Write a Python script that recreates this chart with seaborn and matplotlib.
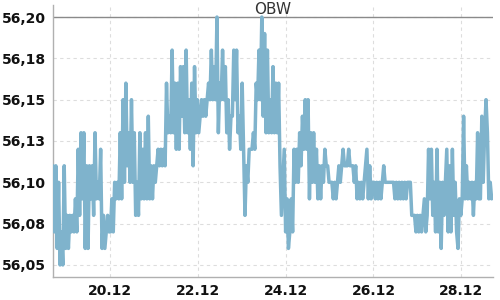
import matplotlib
matplotlib.use("Agg")
import matplotlib.pyplot as plt
import pandas as pd
import seaborn as sns

# ---- data ----
title = "OBW"
start_time = "2024-12-18 17:00"
end_time = "2024-12-28 16:30"
# prices in hundredths above 56.00
price_cents = [
    # 18.12 - 20.12
    11, 7, 11, 6, 10, 5, 7, 5, 11, 6, 8, 6, 8, 7, 8, 7, 9, 7, 12, 8,
    13, 9, 13, 6, 11, 6, 11, 9, 11, 8, 13, 9, 10, 9, 12, 6, 8, 6, 7, 8,
    7, 7, 9, 7, 10, 9, 10, 9, 13, 9, 15, 10, 16, 11, 13,
    # 20.12 - 22.12
    10, 15, 10, 13, 8, 10, 8, 13, 9, 12, 9, 13, 9, 14, 9, 11, 9, 11, 10, 11,
    12, 11, 12, 11, 12, 11, 16, 13, 14, 13, 18, 13, 16, 12, 16, 12, 17, 14, 17, 13,
    18, 13, 15, 12, 16, 11, 17, 13, 15, 13, 14, 15, 14, 15,
    # 22.12 - 23.12
    14, 15, 16, 15, 18, 15, 17, 15, 20, 13, 16, 15, 18, 15, 17, 13, 15, 12, 14, 14,
    18, 15, 18, 13, 14, 12, 16, 12, 8, 11, 10, 12, 12, 12, 13, 12, 16, 15, 18, 15,
    20, 14, 19, 13, 18, 13, 15, 13, 17, 13, 16, 13, 16, 11,
    # 23.12 - 25.12
    8, 10, 12, 7, 9, 6, 7, 9, 7, 12, 10, 12, 10, 13, 11, 14, 12, 15, 12, 15,
    9, 13, 10, 13, 10, 12, 9, 11, 9, 11, 10, 12, 11, 11, 10, 10, 10, 9, 10, 9,
    10, 11, 10, 11, 12, 11, 11, 11, 12, 11, 11, 11, 10, 11,
    # 25.12 - 27.12
    9, 10, 9, 10, 9, 10, 11, 12, 9, 11, 9, 10, 10, 9, 10, 9, 10, 9, 10, 11,
    10, 10, 10, 10, 10, 10, 10, 9, 10, 9, 10, 9, 10, 9, 10, 9, 10, 10, 10, 8,
    8, 8, 7, 8, 7, 8,
    # 27.12 - 28.12
    7, 8, 9, 7, 8, 12, 9, 12, 8, 10, 7, 12, 7, 10, 6, 10, 8, 10, 12, 7,
    11, 7, 12, 8, 10, 7, 6, 9, 8, 9, 14, 9, 11, 9, 10, 9, 10, 8, 10, 9,
    13, 9, 9, 14, 10, 13, 15, 13, 9, 10, 9,
]
reference_level = 56.20
ytick_values = [56.05, 56.075, 56.10, 56.125, 56.15, 56.175, 56.20]
ytick_labels = ["56,05", "56,08", "56,10", "56,13", "56,15", "56,18", "56,20"]
xtick_dates = ["2024-12-20", "2024-12-22", "2024-12-24", "2024-12-26", "2024-12-28"]
xtick_labels = ["20.12", "22.12", "24.12", "26.12", "28.12"]

prices = [56 + c / 100 for c in price_cents]
times = pd.date_range(start_time, end_time, periods=len(prices))
df = pd.DataFrame({"time": times, "price": prices})

# ---- figure ----
sns.set_style("white")
plt.rcParams["font.family"] = ["DejaVu Sans"]

fig = plt.figure(figsize=(5, 3), dpi=100)
ax = fig.add_axes([53 / 500, 23 / 300, 440 / 500, 272 / 300])

ax.axhline(reference_level, color="#8a8a8a", lw=1.0, zorder=1)
sns.lineplot(data=df, x="time", y="price", ax=ax, color="#7fb3cc",
             lw=2.5, estimator=None, zorder=3)

ax.set_xlim(times[0], times[-1] + pd.Timedelta(minutes=45))
ax.set_ylim(56.0427, 56.2073)

ax.set_yticks(ytick_values)
ax.set_yticklabels(ytick_labels)
ax.set_xticks(pd.to_datetime(xtick_dates))
ax.set_xticklabels(xtick_labels)

ax.set_xlabel("")
ax.set_ylabel("")
ax.grid(True, color="#dddddd", linestyle=(0, (3, 3)), lw=0.8)
ax.set_axisbelow(True)

for side in ["top", "right"]:
    ax.spines[side].set_visible(False)
for side in ["left", "bottom"]:
    ax.spines[side].set_color("#b0b0b0")
    ax.spines[side].set_linewidth(1.0)

ax.tick_params(axis="y", length=4, width=1, color="#b0b0b0", pad=1,
               labelsize=10, labelcolor="#111111")
ax.tick_params(axis="x", length=3, width=1, color="#b0b0b0", pad=2,
               labelsize=10, labelcolor="#111111")
for lab in ax.get_xticklabels() + ax.get_yticklabels():
    lab.set_fontweight("bold")

fig.text(273 / 500, 1 - 14.5 / 300, title, ha="center", va="baseline",
         fontsize=11, color="#333333")

fig.savefig("out.png", dpi=100)
